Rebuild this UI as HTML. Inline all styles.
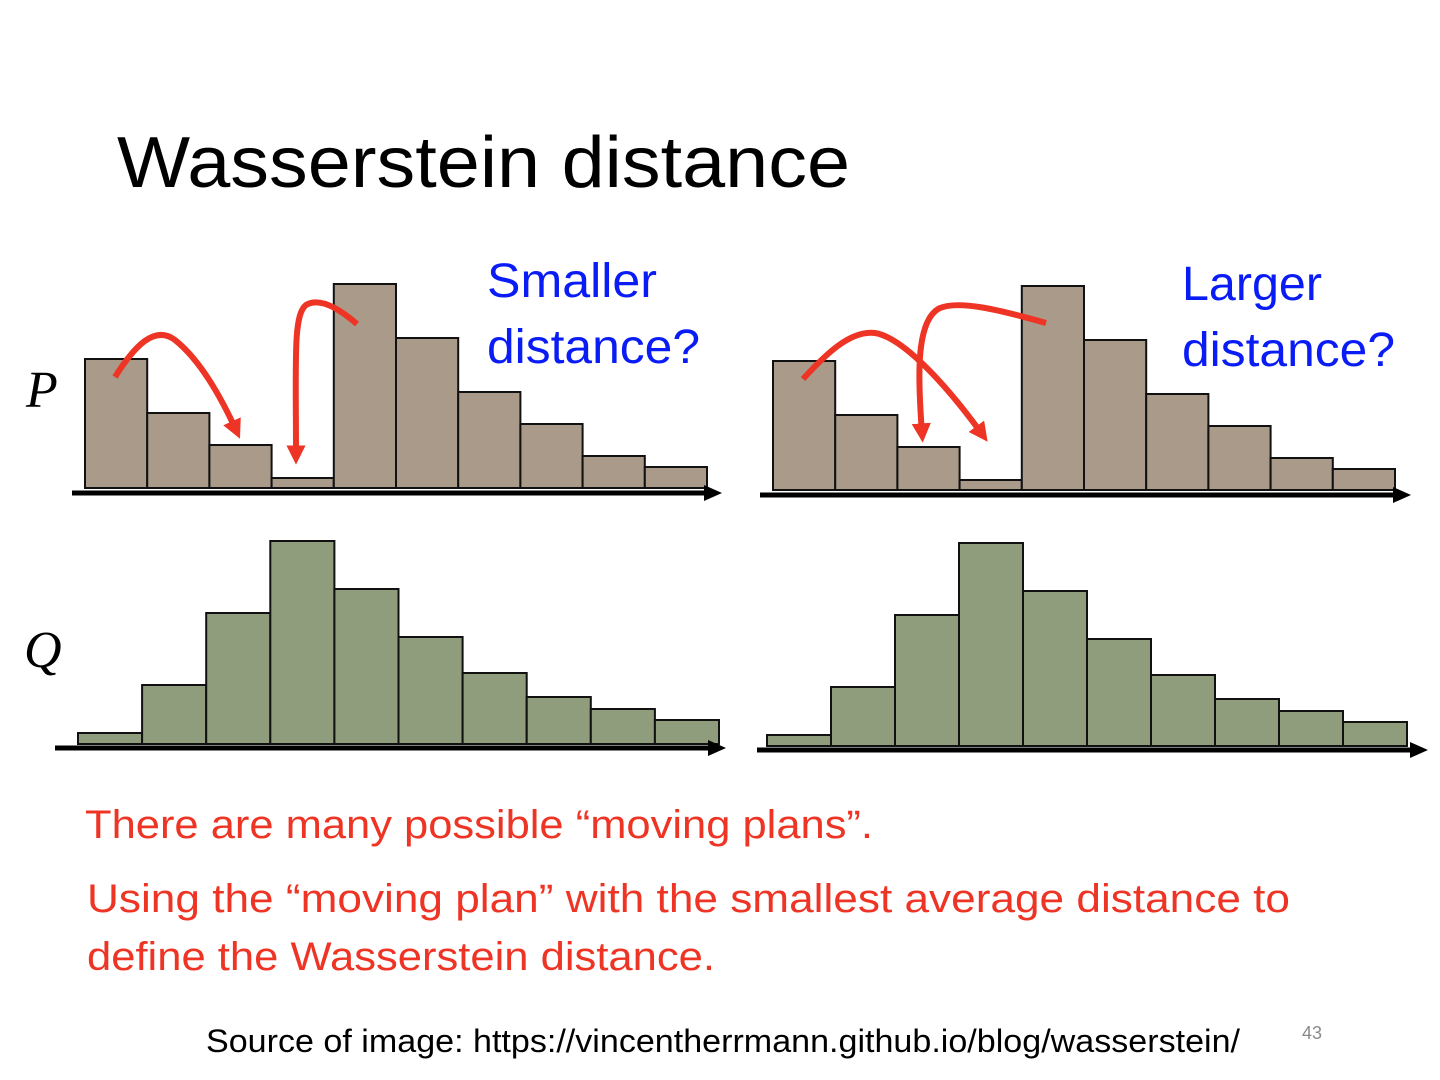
<!DOCTYPE html>
<html><head><meta charset="utf-8"><style>
html,body{margin:0;padding:0;background:#fff;width:1440px;height:1080px;overflow:hidden}
svg{display:block}
</style></head><body>
<svg id="slide" width="1440" height="1080" viewBox="0 0 1440 1080" xmlns="http://www.w3.org/2000/svg">
<defs>
<marker id="ah" viewBox="0 0 10 10" refX="5" refY="5" markerWidth="3.2" markerHeight="3.2" orient="auto"><path d="M0,0 L10,5 L0,10 z" fill="#ee3424"/></marker>
</defs>
<text x="117" y="187" font-family="Liberation Sans, sans-serif" font-size="72" textLength="733" lengthAdjust="spacingAndGlyphs" fill="#000">Wasserstein distance</text>
<text x="487" y="297" font-family="Liberation Sans, sans-serif" font-size="48" textLength="170" lengthAdjust="spacingAndGlyphs" fill="#0a1cf5">Smaller</text>
<text x="487" y="363" font-family="Liberation Sans, sans-serif" font-size="48" textLength="213" lengthAdjust="spacingAndGlyphs" fill="#0a1cf5">distance?</text>
<text x="1182" y="300" font-family="Liberation Sans, sans-serif" font-size="48" textLength="140" lengthAdjust="spacingAndGlyphs" fill="#0a1cf5">Larger</text>
<text x="1182" y="366" font-family="Liberation Sans, sans-serif" font-size="48" textLength="213" lengthAdjust="spacingAndGlyphs" fill="#0a1cf5">distance?</text>
<text x="26" y="407" font-family="Liberation Serif, serif" font-style="italic" font-size="52" fill="#000">P</text>
<text x="24" y="667" font-family="Liberation Serif, serif" font-style="italic" font-size="52" fill="#000">Q</text>
<g id="charts"></g>
<g fill="none" stroke="#ee3424" stroke-width="6" marker-end="url(#ah)">
<path d="M115 377 C135 345,155 325,175 340 C200 360,220 395,236 430"/>
<path d="M357 324 C335 305,318 298,306 305 C293 315,296 360,296 455"/>
<path d="M803 379 C825 355,850 330,875 333 C905 338,950 390,982 434"/>
<path d="M1046 323 C1000 310,960 300,940 308 C915 320,918 380,922 433"/>
</g>
<text x="85" y="838" font-family="Liberation Sans, sans-serif" font-size="40" textLength="788" lengthAdjust="spacingAndGlyphs" fill="#ee3424">There are many possible “moving plans”.</text>
<text x="87" y="912" font-family="Liberation Sans, sans-serif" font-size="40" textLength="1203" lengthAdjust="spacingAndGlyphs" fill="#ee3424">Using the “moving plan” with the smallest average distance to</text>
<text x="87" y="970" font-family="Liberation Sans, sans-serif" font-size="40" textLength="628" lengthAdjust="spacingAndGlyphs" fill="#ee3424">define the Wasserstein distance.</text>
<text x="206" y="1052" font-family="Liberation Sans, sans-serif" font-size="32" textLength="1034" lengthAdjust="spacingAndGlyphs" fill="#000">Source of image: https://vincentherrmann.github.io/blog/wasserstein/</text>
<text x="1302" y="1039" font-family="Liberation Sans, sans-serif" font-size="18" fill="#8a8a8a">43</text>
</svg>
<script>
// Bar heights in pixels-of-value (0 = baseline)
const pValues = [129, 75, 43, 10, 204, 150, 96, 64, 32, 21];
const qValues = [11, 59, 131, 203, 155, 107, 71, 47, 35, 24];
const categories = [1,2,3,4,5,6,7,8,9,10];

const NS = 'http://www.w3.org/2000/svg';
const g = document.getElementById('charts');
function drawHist(name, values, x0, x1, base, color, ax0, ax1, axY){
  const grp = document.createElementNS(NS,'g');
  
  
  g.appendChild(grp);
  const bw = (x1 - x0) / categories.length;
  const yScale = v => base - v;
  values.forEach((v,i)=>{
    const r = document.createElementNS(NS,'rect');
    r.setAttribute('x', x0 + i*bw);
    r.setAttribute('y', yScale(v));
    r.setAttribute('width', bw);
    r.setAttribute('height', v);
    r.setAttribute('fill', color);
    r.setAttribute('stroke', '#111');
    r.setAttribute('stroke-width', '2');
    
    
    grp.appendChild(r);
  });
  const ln = document.createElementNS(NS,'line');
  ln.setAttribute('x1', ax0); ln.setAttribute('x2', ax1 - 14);
  ln.setAttribute('y1', axY); ln.setAttribute('y2', axY);
  ln.setAttribute('stroke', '#000'); ln.setAttribute('stroke-width', '5');
  
  
  grp.appendChild(ln);
  const hd = document.createElementNS(NS,'polygon');
  hd.setAttribute('points', `${ax1-18},${axY-8} ${ax1},${axY} ${ax1-18},${axY+8}`);
  hd.setAttribute('fill', '#000');
  
  
  grp.appendChild(hd);
}
drawHist('p-histogram-left', pValues, 85, 707, 488, '#a99a89', 72, 722, 493);
drawHist('p-histogram-right', pValues, 773, 1395, 490, '#a99a89', 760, 1411, 495);
drawHist('q-histogram-left', qValues, 78, 719, 744, '#8f9d7d', 55, 726, 748);
drawHist('q-histogram-right', qValues, 767, 1407, 746, '#8f9d7d', 757, 1428, 750);
</script>
</body></html>
